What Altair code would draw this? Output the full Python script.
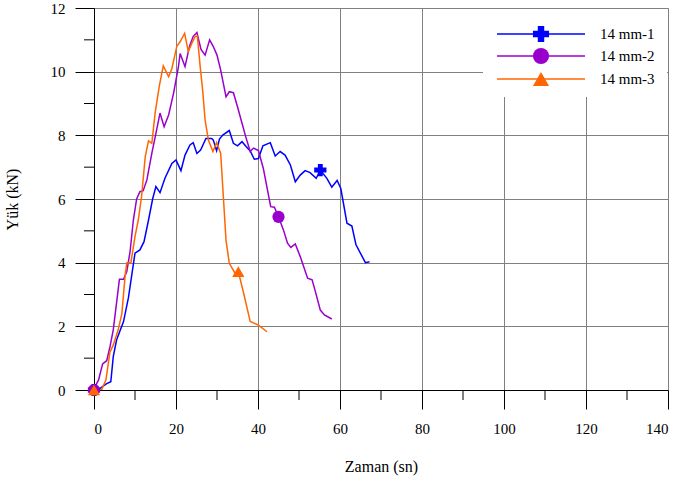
import altair as alt
import pandas as pd

series_names = ["14 mm-1", "14 mm-2", "14 mm-3"]
series_colors = ["#0000FF", "#9900CC", "#FF6600"]
series_shapes = ["cross", "circle", "triangle-up"]

x1 = [0, 1.5, 3.1, 4.1, 4.7, 5.5, 7.2, 8.4, 10, 11.2, 12.2, 13.3, 14.3, 15.1, 16.1, 17.3, 19, 20, 21.2, 22.2,
      23.4, 24.2, 25.1, 26, 27.3, 28.7, 29.1, 29.9, 30.6, 31.4, 33, 34, 35, 36.1, 37.1, 38.1, 39.1, 40.1, 41.2,
      43, 44.2, 45.4, 46.6, 47.9, 49.1, 50.3, 51.5, 52.7, 54.2, 55.2, 56.8, 58, 59.3, 60.2, 61.7, 62.9, 63.9,
      66.2, 67.2]
y1 = [0, 0.05, 0.2, 0.26, 1.05, 1.57, 2.15, 2.9, 4.3, 4.4, 4.66, 5.34, 6.0, 6.39, 6.2, 6.65, 7.12, 7.23, 6.89,
      7.38, 7.7, 7.77, 7.43, 7.54, 7.9, 7.9, 7.85, 7.52, 7.88, 8.01, 8.15, 7.75, 7.67, 7.8, 7.65, 7.51, 7.25,
      7.27, 7.67, 7.77, 7.35, 7.49, 7.38, 7.07, 6.54, 6.75, 6.89, 6.83, 6.65, 6.91, 6.65, 6.37, 6.58, 6.33,
      5.24, 5.15, 4.56, 4.0, 4.03]

x2 = [0, 0.2, 1.1, 2.1, 3.1, 3.9, 4.7, 6.2, 7.2, 8, 8.8, 9.6, 10.4, 11.2, 12, 12.9, 14.1, 15.1, 16.1, 17.1,
      18.2, 19.4, 20.6, 21, 22.2, 23.3, 24.2, 25.1, 26.1, 27.1, 28.2, 29.1, 30, 30.9, 32.2, 33, 34, 35, 36.1,
      37, 38.1, 38.9, 40.1, 41.3, 43.1, 44, 45, 46.2, 47.2, 48, 49.1, 50.3, 52.1, 53.2, 54, 55.2, 56.2, 58]
y2 = [0, 0.1, 0.31, 0.82, 0.92, 1.36, 1.89, 3.48, 3.48, 3.72, 4.35, 5.34, 6.0, 6.23, 6.26, 6.6, 7.43, 8.06,
      8.7, 8.27, 8.64, 9.32, 10.16, 10.57, 10.16, 10.8, 11.11, 11.23, 10.7, 10.52, 11.0, 10.79, 10.52, 10.05,
      9.21, 9.37, 9.34, 8.9, 8.38, 7.96, 7.49, 7.6, 7.52, 6.96, 5.76, 5.74, 5.44, 5.03, 4.61, 4.48, 4.59,
      4.19, 3.51, 3.46, 3.09, 2.51, 2.36, 2.23]

x3 = [0, 1.9, 2.9, 3.9, 4.7, 5.9, 6.8, 7.6, 8, 9, 10, 10.8, 11.6, 12.5, 13.3, 14.1, 14.9, 15.9, 16.9, 18.2,
      19, 20.2, 21, 22.1, 23, 23.9, 24.7, 25.2, 25.9, 26.5, 27.1, 27.9, 29, 29.9, 30.9, 31.6, 32.2, 33, 34.4,
      35.2, 36.5, 38.1, 40.1, 42.2]
y3 = [0, 0.02, 0.31, 1.2, 1.41, 1.89, 2.4, 3.61, 4.0, 4.0, 4.82, 5.34, 6.07, 7.33, 7.83, 7.75, 8.69, 9.53,
      10.18, 9.84, 10.1, 10.8, 10.94, 11.2, 10.63, 10.9, 11.11, 11.12, 10.16, 9.42, 8.48, 7.85, 7.49, 7.77,
      7.43, 5.97, 4.71, 3.98, 3.67, 3.72, 3.04, 2.15, 2.04, 1.83]

marker_x = [0, 55.2, 0, 45, 0, 35.2]
marker_y = [0, 6.91, 0, 5.44, 0, 3.72]
marker_series = ["14 mm-1", "14 mm-1", "14 mm-2", "14 mm-2", "14 mm-3", "14 mm-3"]

x_major = [0, 20, 40, 60, 80, 100, 120, 140]
x_minor = [10, 30, 50, 70, 90, 110, 130]
y_major = [0, 2, 4, 6, 8, 10, 12]
y_minor = [1, 3, 5, 7, 9, 11]

FONT = "serif"
W, H = 574, 382

rows = []
for name, xs, ys in zip(series_names, [x1, x2, x3], [y1, y2, y3]):
    for i, (a, b) in enumerate(zip(xs, ys)):
        rows.append({"series": name, "t": a, "load": b, "idx": i})
lines_df = pd.DataFrame(rows)
markers_df = pd.DataFrame({"series": marker_series, "t": marker_x, "load": marker_y})

xscale = alt.Scale(domain=[0, 140], nice=False, zero=False)
yscale = alt.Scale(domain=[0, 12], nice=False, zero=False)
color_scale = alt.Scale(domain=series_names, range=series_colors)
shape_scale = alt.Scale(domain=series_names, range=series_shapes)

x_axis = alt.Axis(values=x_major, title="Zaman (sn)", grid=True, gridColor="#808080", gridWidth=1,
                  domainColor="black", tickColor="black", tickSize=19, labelPadding=12,
                  labelFont=FONT, labelFontSize=15, labelColor="black",
                  titleFont=FONT, titleFontSize=16, titleFontWeight="normal", titleColor="black",
                  titlePadding=22)
y_axis = alt.Axis(values=y_major, title="Yük (kN)", grid=True, gridColor="#808080", gridWidth=1,
                  domainColor="black", tickColor="black", tickSize=19, labelPadding=10,
                  labelFont=FONT, labelFontSize=15, labelColor="black",
                  titleFont=FONT, titleFontSize=16, titleFontWeight="normal", titleColor="black",
                  titlePadding=30)

lines = alt.Chart(lines_df).mark_line(strokeWidth=1.5).encode(
    x=alt.X("t:Q", scale=xscale, axis=x_axis),
    y=alt.Y("load:Q", scale=yscale, axis=y_axis),
    color=alt.Color("series:N", scale=color_scale, legend=None),
    detail="series:N",
    order="idx:Q",
)

markers = alt.Chart(markers_df).mark_point(filled=True, opacity=1, size=150).encode(
    x=alt.X("t:Q", scale=xscale),
    y=alt.Y("load:Q", scale=yscale),
    color=alt.Color("series:N", scale=color_scale, legend=None),
    shape=alt.Shape("series:N", scale=shape_scale, legend=None),
)

xminor = alt.Chart(pd.DataFrame({"v": x_minor})).mark_rule(color="black", strokeWidth=1).encode(
    x=alt.X("v:Q", scale=xscale), y=alt.value(H), y2=alt.value(H + 10))
yminor = alt.Chart(pd.DataFrame({"v": y_minor})).mark_rule(color="black", strokeWidth=1).encode(
    y=alt.Y("v:Q", scale=yscale), x=alt.value(-10), x2=alt.value(0))

one = pd.DataFrame({"a": [0]})
legend_layers = [
    alt.Chart(one).mark_rect(fill="white", stroke=None).encode(
        x=alt.value(389), x2=alt.value(573), y=alt.value(1), y2=alt.value(89))
]
row_y = [26, 48, 71]
for name, col, shp, ry in zip(series_names, series_colors, series_shapes, row_y):
    legend_layers.append(alt.Chart(one).mark_rule(color=col, strokeWidth=1.5).encode(
        x=alt.value(403), x2=alt.value(491), y=alt.value(ry)))
    legend_layers.append(alt.Chart(one).mark_point(filled=True, opacity=1, shape=shp, color=col,
                                                   size=260).encode(
        x=alt.value(447), y=alt.value(ry)))
    legend_layers.append(alt.Chart(one).mark_text(font=FONT, fontSize=15, align="left",
                                                  baseline="middle", color="black").encode(
        x=alt.value(506), y=alt.value(ry), text=alt.value(name)))

chart = alt.layer(lines, markers, xminor, yminor, *legend_layers).properties(
    width=W, height=H,
    autosize=alt.AutoSizeParams(type="none"),
    padding={"left": 94, "top": 8, "right": 13, "bottom": 96},
).configure_view(stroke=None).configure(background="white")

chart.save("out.html", embed_options={"renderer": "svg", "actions": False})
